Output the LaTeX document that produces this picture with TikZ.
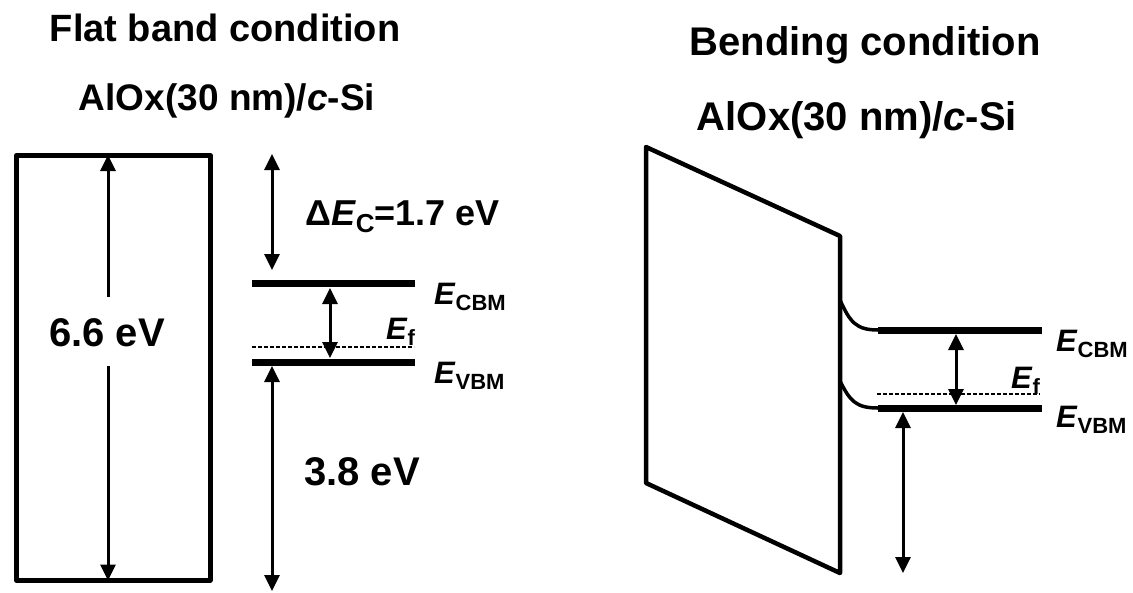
\documentclass[tikz,border=0pt]{standalone}
\usepackage{fontspec}
\setmainfont{Liberation Sans}
\usetikzlibrary{arrows.meta}
\tikzset{
  big/.style={font=\fontsize{38}{40}\selectfont\bfseries, inner sep=0pt},
  bigr/.style={font=\fontsize{40}{42}\selectfont\bfseries, inner sep=0pt},
  mid/.style={font=\fontsize{36}{38}\selectfont\bfseries, inner sep=0pt, anchor=base west},
  elbl/.style={font=\fontsize{31}{33}\selectfont\bfseries, inner sep=0pt, anchor=base west},
  frame/.style={line width=4.5pt, line join=round},
  band/.style={line width=7pt},
  bendline/.style={line width=3.5pt},
  fermi/.style={line width=1.2pt, dash pattern=on 4pt off 2pt},
  sarr/.style={line width=3pt, -{Triangle[length=16pt,width=15pt]}},
  darr/.style={line width=3pt, {Triangle[length=16pt,width=15pt]}-{Triangle[length=16pt,width=15pt]}},
}
\newcommand{\sbs}[1]{\raisebox{-0.2em}{\fontsize{22}{23}\selectfont #1}}
\begin{document}
\begin{tikzpicture}[x=1pt,y=-1pt]
\useasboundingbox (0,0) rectangle (1133,592);
% ---------- titles ----------
\node[big, anchor=base] (t1) at (225,41) {Flat band condition};
\node[big, anchor=base, font=\fontsize{37}{40}\selectfont\bfseries] (t2) at (227,110) {AlOx(30 nm)/\textit{c}-Si};
\node[bigr, anchor=base] (t3) at (865,55) {Bending condition};
\node[bigr, anchor=base] (t4) at (857,130) {AlOx(30 nm)/\textit{c}-Si};
% ---------- left: flat band ----------
\node[draw, frame, minimum width=194pt, minimum height=425pt, anchor=north west, inner sep=0pt] (box) at (14,153) {};
\node[bigr, anchor=base] (g66) at (107,346) {6.6 eV};
\coordinate (ga) at (108,297);
\coordinate (gb) at (108,366);
\draw[sarr] (ga) -- ([yshift=-2pt]box.north -| ga);
\draw[sarr] (gb) -- ([yshift=2pt]box.south -| gb);
% bands
\coordinate (c1) at (252,283); \coordinate (c2) at (415,283);
\coordinate (v1) at (252,362); \coordinate (v2) at (415,362);
\coordinate (f1) at (252,347); \coordinate (f2) at (414,347);
\draw[band] (c1) -- (c2);
\draw[band] (v1) -- (v2);
\draw[fermi] (f1) -- (f2);
\coordinate (ua) at (272,154); \coordinate (ub) at (272,270);
\draw[darr] (ua) -- (ub);
\coordinate (la) at (272,366); \coordinate (lb) at (272,591);
\draw[darr] (la) -- (lb);
\coordinate (ma) at (330,288); \coordinate (mb) at (330,358);
\draw[darr] (ma) -- (mb);
\node[mid] (dec) at (305,225) {Δ\textit{E}\raisebox{-0.22em}{\fontsize{26}{26}\selectfont C}=1.7 eV};
\node[bigr, anchor=base west] (g38) at (304,485) {3.8 eV};
\node[elbl] (lcbm) at (434,304) {\textit{E}\sbs{CBM}};
\node[elbl] (lf) at (386,339) {\textit{E}\sbs{f}};
\node[elbl] (lvbm) at (434,383) {\textit{E}\sbs{VBM}};
% ---------- right: bending ----------
\coordinate (p1) at (646,147);
\coordinate (p2) at (840,236);
\coordinate (p3) at (840,573);
\coordinate (p4) at (646,483);
\draw[frame] (p1) -- (p2) -- (p3) -- (p4) -- cycle;
\coordinate (rc0) at (840,300); \coordinate (rc1) at (878,330); \coordinate (rc2) at (1042,330);
\coordinate (rv0) at (840,381); \coordinate (rv1) at (878,408); \coordinate (rv2) at (1042,408);
\draw[bendline] (rc0) .. controls (850,322) and (856,330) .. (rc1);
\draw[bendline] (rv0) .. controls (850,401) and (856,408) .. (rv1);
\draw[band] (rc1) -- (rc2);
\draw[band] (rv1) -- (rv2);
\coordinate (rf1) at (877,394); \coordinate (rf2) at (1040,394);
\draw[fermi] (rf1) -- (rf2);
\coordinate (rma) at (956,334); \coordinate (rmb) at (956,405);
\draw[darr] (rma) -- (rmb);
\coordinate (rla) at (903,412); \coordinate (rlb) at (903,573);
\draw[darr] (rla) -- (rlb);
\node[elbl] (rcbm) at (1056,351) {\textit{E}\sbs{CBM}};
\node[elbl] (rfl) at (1011,388) {\textit{E}\sbs{f}};
\node[elbl] (rvbm) at (1056,427) {\textit{E}\sbs{VBM}};
\end{tikzpicture}
\end{document}
